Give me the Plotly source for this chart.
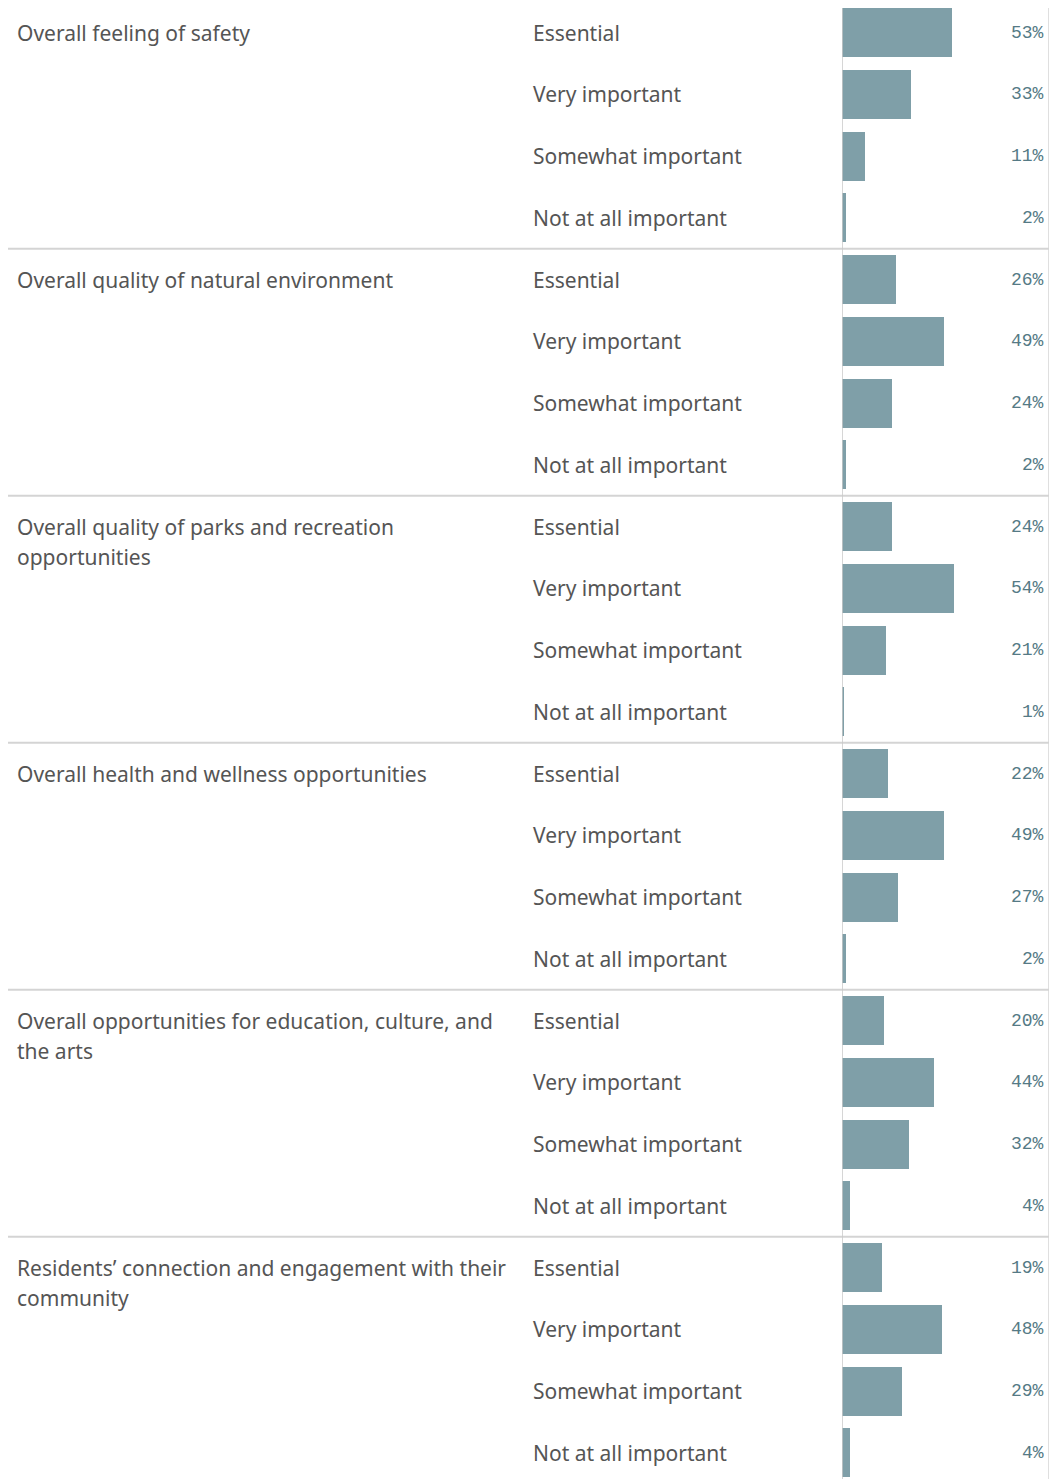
import plotly.graph_objects as go

categories = [
    "Overall feeling of safety",
    "Overall quality of natural environment",
    "Overall quality of parks and recreation opportunities",
    "Overall health and wellness opportunities",
    "Overall opportunities for education, culture, and the arts",
    "Residents\u2019 connection and engagement with their community",
]
category_lines = [
    ["Overall feeling of safety"],
    ["Overall quality of natural environment"],
    ["Overall quality of parks and recreation", "opportunities"],
    ["Overall health and wellness opportunities"],
    ["Overall opportunities for education, culture, and", "the arts"],
    ["Residents\u2019 connection and engagement with their", "community"],
]
levels = ["Essential", "Very important", "Somewhat important", "Not at all important"]
values = [
    [53, 33, 11, 2],
    [26, 49, 24, 2],
    [24, 54, 21, 1],
    [22, 49, 27, 2],
    [20, 44, 32, 4],
    [19, 48, 29, 4],
]

# page body has an 8px margin, so the figure is sized/offset accordingly
W, H = 1049, 1471
OFF = 8
PITCH = 61.75
TOP_CENTER = 32.5 - OFF
y_top = -TOP_CENTER / PITCH
y_bot = (H - TOP_CENTER) / PITCH

BAR = "#7F9FA8"
TXT = "#555555"
PCT = "#557A85"
LINE = "#D4D4D4"

ys, xs = [], []
for g, vals in enumerate(values):
    for i, v in enumerate(vals):
        ys.append(g * 4 + i)
        xs.append(v)

fig = go.Figure()
fig.add_trace(go.Bar(
    x=xs, y=ys, orientation="h", marker=dict(color=BAR, line=dict(width=0)),
    width=49 / PITCH, hoverinfo="skip", showlegend=False,
))

ann = []
shapes = []
for g, vals in enumerate(values):
    for li, line in enumerate(category_lines[g]):
        ann.append(dict(
            x=(15 - OFF) / W, xref="paper", y=g * 4 + li * 30 / PITCH, yref="y",
            text=line, showarrow=False, xanchor="left", yanchor="middle",
            font=dict(family="Noto Sans", size=21, color=TXT),
        ))
    for i, v in enumerate(vals):
        r = g * 4 + i
        ann.append(dict(
            x=(531 - OFF) / W, xref="paper", y=r, yref="y", text=levels[i],
            showarrow=False, xanchor="left", yanchor="middle",
            font=dict(family="Noto Sans", size=21, color=TXT),
        ))
        ann.append(dict(
            x=(1046 - OFF) / W, xref="paper", y=r, yref="y", text=f"{v}%",
            showarrow=False, xanchor="right", yanchor="middle",
            font=dict(family="Liberation Mono", size=18, color=PCT),
        ))
    if g > 0:
        shapes.append(dict(type="line", xref="paper", yref="y", x0=0, x1=(1049 - OFF) / W,
                           y0=g * 4 - 0.5, y1=g * 4 - 0.5,
                           line=dict(color=LINE, width=2)))

# vertical axis line at bar base and right border
shapes.append(dict(type="line", xref="x", yref="paper", x0=0, x1=0, y0=0, y1=1,
                   line=dict(color="#C8C8C8", width=1.5)))
shapes.append(dict(type="line", xref="paper", yref="paper",
                   x0=(1049 - OFF) / W, x1=(1049 - OFF) / W, y0=0, y1=1,
                   line=dict(color=LINE, width=1.5)))

fig.update_layout(
    width=W, height=H, margin=dict(l=0, r=0, t=0, b=0),
    paper_bgcolor="white", plot_bgcolor="white",
    xaxis=dict(domain=[(842 - OFF) / W, (842 - OFF + 208) / W], range=[0, 100],
               visible=False, fixedrange=True),
    yaxis=dict(range=[y_bot, y_top], visible=False, fixedrange=True),
    annotations=ann, shapes=shapes, bargap=0,
)

fig.write_html("out.html")
